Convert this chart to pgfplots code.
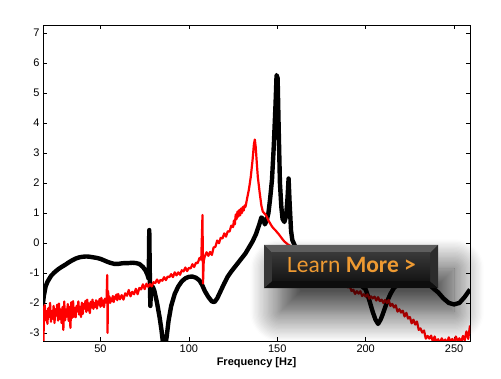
\documentclass[border=0pt]{standalone}
\usepackage{fontspec}
\setmainfont{Liberation Sans}
\newfontfamily\btnfont{Carlito}
\usepackage{pgfplots}
\pgfplotsset{compat=1.18}
\usetikzlibrary{shadows.blur}
\definecolor{btnorange}{HTML}{EE9A32}
\definecolor{bevtop}{HTML}{5E5E5E}
\definecolor{bevside}{HTML}{383838}
\definecolor{bevright}{HTML}{2C2C2C}
\definecolor{bevbot}{HTML}{0E0E0E}
\begin{document}
\begin{tikzpicture}
\path[use as bounding box] (0,0) rectangle (501pt,378pt);
\begin{axis}[
  at={(43pt,37pt)}, anchor=south west,
  scale only axis, width=427pt, height=316pt,
  xmin=17.5, xmax=259, ymin=-3.27, ymax=7.27,
  xtick={50,100,150,200,250}, ytick={-3,-2,-1,0,1,2,3,4,5,6,7},
  tick align=inside, major tick length=4pt,
  xtick pos=both, ytick pos=both,
  tick style={black, line width=0.6pt},
  axis line style={line width=0.8pt},
  ticklabel style={font=\fontsize{11}{13}\selectfont},
  /pgf/number format/assume math mode=true,
  xlabel={Frequency [Hz]},
  xlabel style={font=\fontsize{11}{13}\selectfont\bfseries, yshift=2pt},
  clip=true,
]
% black curve
\addplot[black, line width=4.4pt, line join=round] coordinates {
(17.5,-2.0) (18,-1.75) (19,-1.45) (20,-1.3) (22,-1.1) (24,-0.98) (26,-0.88)
(28,-0.8) (30,-0.73) (32,-0.65) (34,-0.58) (36,-0.52) (38,-0.48) (40,-0.46)
(42,-0.45) (44,-0.46) (46,-0.48) (48,-0.5) (50,-0.53) (52,-0.58) (54,-0.63)
(56,-0.67) (58,-0.7) (60,-0.7) (62,-0.68) (64,-0.67) (66,-0.67) (68,-0.66)
(70,-0.67) (72,-0.7) (74,-0.8) (75.5,-0.92) (76.5,-1.05) (77.3,-1.2)
(77.6,0.43) (77.9,-1.0) (78.2,-2.1) (78.5,-1.7) (79.5,-1.45) (80.5,-1.6)
(82,-2.0) (83.5,-2.5) (84.5,-2.9) (85.5,-3.4) (86.5,-3.5) (87.5,-3.1)
(88.5,-2.6) (90,-2.1) (92,-1.7) (94,-1.45) (96,-1.28) (98,-1.18) (100,-1.13)
(102,-1.12) (104,-1.16) (106,-1.25) (107.5,-1.4) (109,-1.6) (111,-1.8)
(113,-1.95) (114.5,-1.97) (116,-1.85) (118,-1.6) (120,-1.35) (122,-1.12)
(124,-0.95) (126,-0.8) (128,-0.65) (130,-0.5) (132,-0.35) (134,-0.15)
(136,0.05) (138,0.3) (140,0.65) (141,0.85) (142,0.8) (143,0.62) (144,0.75)
(145,1.0) (146,1.5) (147,2.1) (148,3.2) (149,4.6) (149.6,5.6) (150.2,5.5)
(150.8,3.8) (151.5,2.0) (152.3,1.2) (153,0.8) (154,0.7) (155,0.9)
(155.8,1.5) (156.4,2.15) (157,1.3) (157.8,0.4) (158.5,0.1) (160,-0.1)
(165,-0.4) (170,-0.7) (180,-1.0) (190,-1.2) (196,-1.35) (200,-1.55)
(202,-1.9) (204,-2.3) (205.5,-2.55) (207,-2.7) (208.5,-2.55) (209.5,-2.4)
(211,-2.15) (212.5,-1.9) (214,-1.7) (216,-1.5) (219,-1.35) (225,-1.25)
(230,-1.25) (235,-1.35) (238,-1.5) (241,-1.65) (244,-1.85) (247,-2.0)
(250,-2.05) (253,-2.0) (256,-1.8) (259,-1.55)
};
% red curve
\addplot[red, line width=2.2pt, line join=round] coordinates {
(17.5,-2.5) (17.8,-3.3) (18.0,-2.2) (18.5,-2.07) (19.0,-2.58) (19.5,-2.27)
(20.0,-2.70) (20.5,-2.18) (21.0,-2.46) (21.5,-2.0) (22.0,-2.63) (22.5,-2.28)
(23.0,-2.53) (23.5,-2.10) (24.0,-2.67) (24.5,-2.21) (25.0,-2.42) (25.5,-2.06)
(26.0,-2.59) (26.5,-2.02) (27.0,-2.54) (27.5,-2.22) (28.0,-2.67) (28.5,-2.14)
(29.0,-2.9) (29.5,-1.95) (30.0,-2.58) (30.5,-2.22) (31.0,-2.46) (31.5,-2.04)
(32.0,-2.6) (32.5,-2.13) (33.0,-2.83) (33.5,-1.98) (34.0,-2.5) (34.5,-1.94)
(35.0,-2.46) (35.5,-2.17) (36.0,-2.48) (36.5,-2.10) (37.0,-2.29) (37.5,-1.95)
(38.0,-2.39) (38.5,-2.13) (39.0,-2.47) (39.5,-1.99) (40.0,-2.37) (40.5,-2.04)
(41.0,-2.19) (41.5,-1.93) (42.0,-2.30) (42.5,-1.89) (43.0,-2.25) (43.5,-2.02)
(44.0,-2.34) (44.5,-1.96) (45.0,-2.15) (45.5,-1.89) (46.0,-2.20) (46.5,-2.01)
(47.0,-2.13) (47.5,-1.91) (48.0,-2.19) (48.5,-1.95) (49.0,-2.05) (49.5,-1.87)
(50.0,-2.13) (50.5,-1.83) (51.0,-2.09) (51.5,-1.92) (52.0,-2.14) (52.5,-1.86)
(53.0,-1.99) (53.5,-1.82) (53.8,-1.07) (54.0,-3.0) (54.3,-1.6) (54.6,-1.95)
(55.0,-1.78) (55.5,-2.0) (56.0,-1.85) (56.5,-1.94) (57.0,-1.77) (57.5,-1.97)
(58.0,-1.79) (58.5,-1.86) (59.0,-1.72) (59.5,-1.91) (60.0,-1.70)
(61,-1.88) (62,-1.74) (63,-1.89) (64,-1.68) (65,-1.76) (66,-1.57) (67,-1.78)
(68,-1.63) (69,-1.71) (70,-1.53) (71,-1.71) (72,-1.50) (73,-1.55) (74,-1.38)
(75,-1.54) (76,-1.36) (77,-1.46) (78,-1.37) (79,-1.45) (80,-1.31) (81,-1.34)
(82,-1.22) (83,-1.33) (84,-1.23) (85,-1.26) (86,-1.14) (87,-1.24) (88,-1.12)
(89,-1.14) (90,-1.04) (91,-1.14) (92,-0.98) (93,-1.08) (94,-0.98) (95,-1.06)
(96,-0.91) (97,-0.95) (98,-0.82) (99,-0.94) (100,-0.83) (101,-0.85)
(102,-0.71) (103,-0.80) (104,-0.66) (105,-0.67) (106,-0.50) (107,-0.56)
(107.7,0.93) (108.0,-1.35) (108.4,-0.6) (109,-0.45) (110,-0.31) (111,-0.43)
(112,-0.30) (113,-0.40) (114,-0.15) (115,-0.13) (116,0.08) (117,-0.01)
(118,0.17) (119,0.15) (120,0.32) (121,0.21) (122,0.39) (123,0.38) (124,0.58)
(125,0.53) (125.5,0.75) (126,0.62) (126.5,0.95) (127,0.8) (127.5,1.05)
(128,0.88) (128.5,1.1) (129,0.92) (129.5,1.15) (130,1.0) (130.5,1.2)
(131,1.08) (131.5,1.25) (132,1.2) (133,1.5) (134,1.8) (135,2.2) (136,2.75)
(136.8,3.3) (137.3,3.45) (137.8,3.2) (138.5,2.6) (139,2.2) (140,1.7)
(141,1.25) (141.8,1.05) (142.5,1.0) (143.3,0.95) (144,0.88) (145,0.75)
(146,0.65) (147,0.55) (148,0.48) (149,0.42) (150,0.35) (151,0.28) (152,0.2)
(153,0.12) (154,0.05) (155,0.0) (156,-0.05) (158,-0.12) (160,-0.2)
(165,-0.45) (170,-0.7) (175,-0.9) (180,-1.1) (185,-1.3) (190,-1.48)
(191,-1.45) (192,-1.60) (193,-1.56) (194,-1.70) (195,-1.61) (196,-1.69)
(197,-1.61) (198,-1.77) (199,-1.71) (200,-1.79) (201,-1.71) (202,-1.86)
(203,-1.78) (204,-1.85) (205,-1.79) (206,-1.92) (207,-1.81) (208,-1.94)
(209,-1.89) (210,-2.0) (211,-1.90) (212,-2.0) (213,-1.90) (214,-2.10)
(215,-2.03) (216,-2.15) (217,-2.08) (218,-2.29) (219,-2.21) (220,-2.32)
(221,-2.26) (222,-2.45) (223,-2.33) (224,-2.52) (225,-2.47) (226,-2.68)
(227,-2.56) (228,-2.72) (229,-2.62) (230,-2.90) (231,-2.85) (232,-2.99)
(233,-2.92) (234,-3.19) (235,-3.10) (236,-3.19) (237,-3.09) (238,-3.29)
(239,-3.12) (240,-3.32) (241,-3.21) (242,-3.35) (243,-3.18) (244,-3.3)
(245,-3.22) (246,-3.35) (247,-3.15) (248,-3.3) (249,-3.2) (250,-3.35)
(251,-3.12) (252,-3.28) (253,-3.18) (254,-3.32) (255,-3.1) (256,-3.25)
(257,-2.95) (258,-3.2) (259,-2.75)
};
\end{axis}
% "Learn More >" button overlay
\fill[bevside, blur shadow={shadow xshift=16pt, shadow yshift=-24pt, shadow blur radius=30pt, shadow opacity=80, shadow blur steps=24}]
  (264pt,90pt) rectangle (438pt,133pt);
\fill[bevtop] (264pt,133pt) -- (438pt,133pt) -- (430pt,125pt) -- (272pt,125pt) -- cycle;
\fill[bevbot] (264pt,90pt) -- (438pt,90pt) -- (430pt,97pt) -- (272pt,97pt) -- cycle;
\fill[bevside] (264pt,90pt) -- (264pt,133pt) -- (272pt,125pt) -- (272pt,97pt) -- cycle;
\fill[bevright] (438pt,90pt) -- (438pt,133pt) -- (430pt,125pt) -- (430pt,97pt) -- cycle;
\shade[top color=black!78, bottom color=black!92] (272pt,97pt) rectangle (430pt,125pt);
\node[anchor=base, inner sep=0pt, text=btnorange, font=\btnfont\fontsize{23.5}{26}\selectfont]
  at (351.5pt,105pt) {Learn \textbf{More >}};
\end{tikzpicture}
\end{document}
